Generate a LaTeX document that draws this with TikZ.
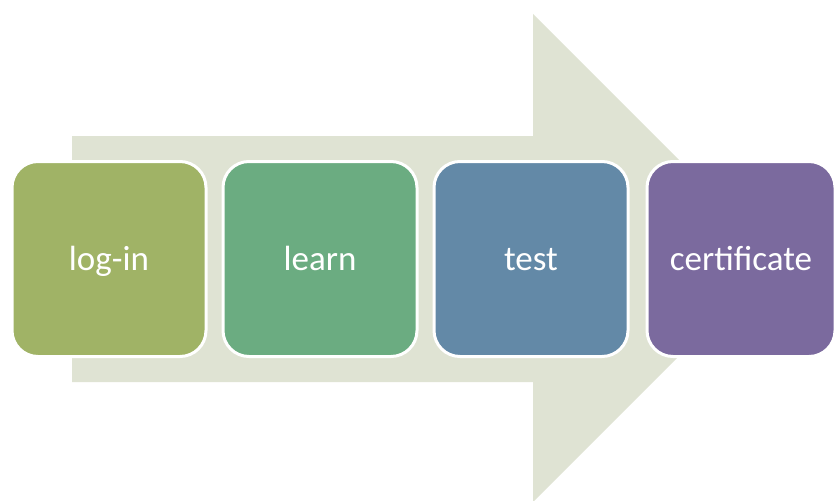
\documentclass[tikz,border=0pt]{standalone}
\usepackage{fontspec}
\setmainfont{Carlito}
\usepackage{tikz}
\usetikzlibrary{positioning}

\definecolor{arrowbg}{HTML}{DFE3D3}
\definecolor{loginc}{HTML}{A0B366}
\definecolor{learnc}{HTML}{6BAC81}
\definecolor{testc}{HTML}{6389A7}
\definecolor{certc}{HTML}{7B6A9E}

\tikzset{
  stepbox/.style={rectangle, rounded corners=26pt, draw=white, line width=3pt,
    minimum width=194pt, minimum height=195pt, text=white,
    font=\fontsize{35}{40}\selectfont, inner sep=0pt,
    text height=26pt, text depth=4pt}
}

\begin{document}
\begin{tikzpicture}[x=1pt, y=-1pt]
\useasboundingbox (0,0) rectangle (834,500);
% Big arrow in the back
\fill[arrowbg] (72,136) -- (533,136) -- (533,14) -- (777,258) -- (533,502) -- (533,382) -- (72,382) -- cycle;

% Steps
\node[stepbox, fill=loginc] (login) at (109,259) {log-in};
\node[stepbox, fill=learnc] (learn) at (320,259) {learn};
\node[stepbox, fill=testc] (test) at (531,259) {test};
\node[stepbox, fill=certc, minimum width=188pt] (cert) at (741,259) {certificate};
\end{tikzpicture}
\end{document}
